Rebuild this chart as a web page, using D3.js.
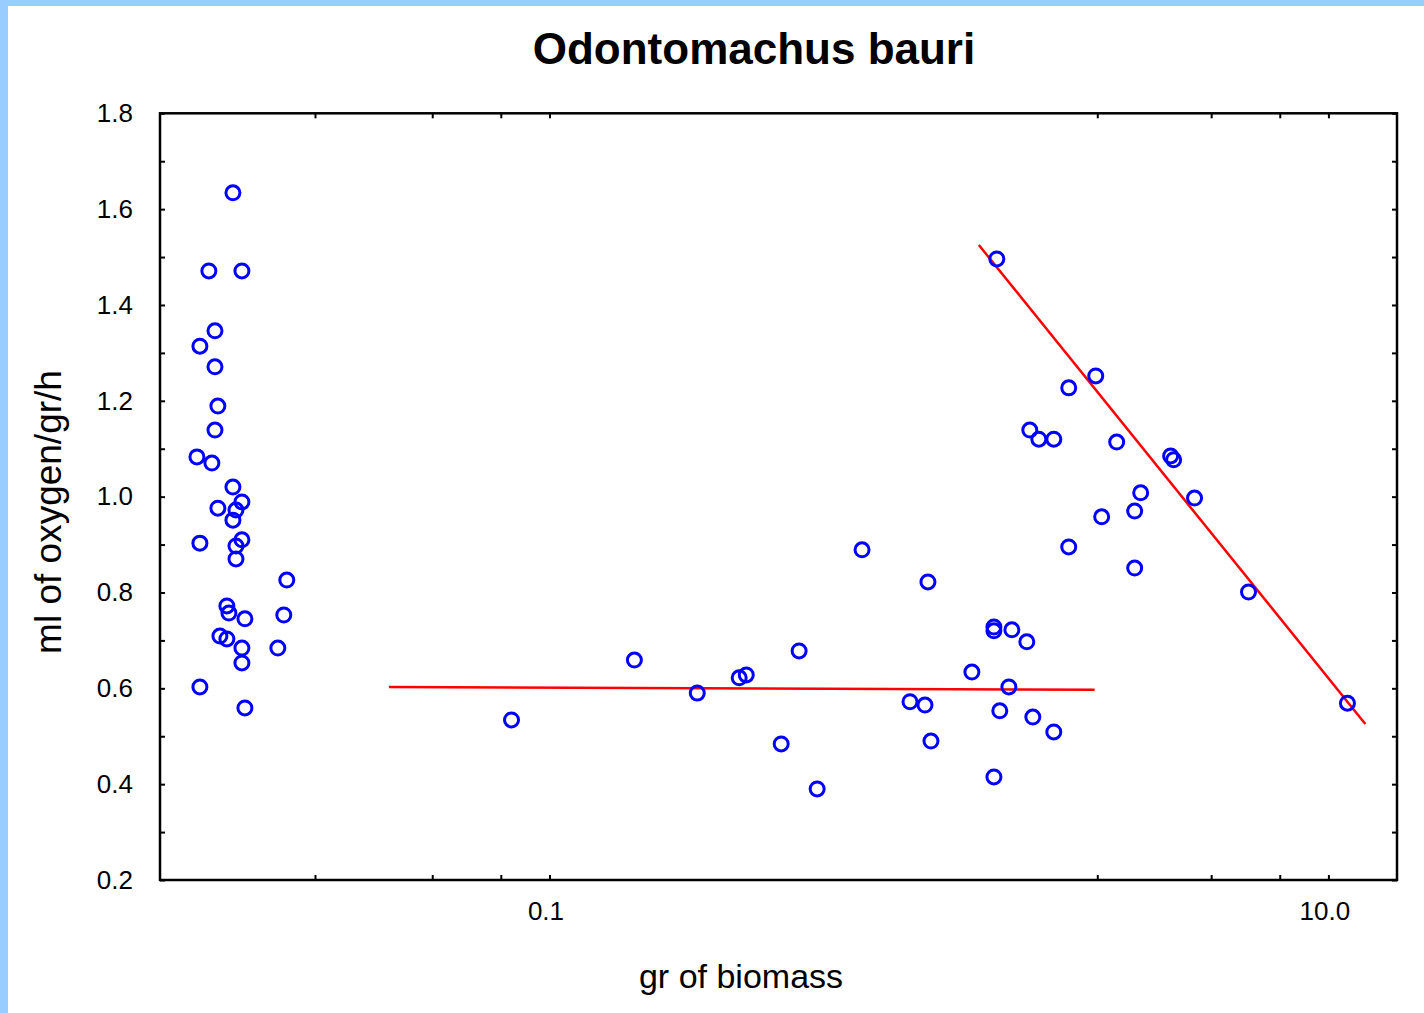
<!DOCTYPE html>
<html>
<head>
<meta charset="utf-8">
<script src="https://cdn.jsdelivr.net/npm/d3@7/dist/d3.min.js"></script>
<style>
  html, body { margin: 0; padding: 0; background: #fff; }
  svg { display: block; font-family: "Liberation Sans", Arial, sans-serif; }
</style>
</head>
<body>
<svg id="chart" width="1424" height="1013"></svg>
<script>
// values (x is biomass in gr, y is ml O2 / gr / h)
const smallAntsX = [0.01539, 0.01335, 0.01623, 0.01384, 0.01266, 0.01384, 0.01408, 0.01384, 0.01244, 0.01359,
  0.01539, 0.01623, 0.01408, 0.01567, 0.01539, 0.01266, 0.01623, 0.01567, 0.01567, 0.02116,
  0.01485, 0.01503, 0.01652, 0.02079, 0.01425, 0.01485, 0.01623, 0.02007, 0.01623, 0.01266, 0.01652];
const smallAntsY = [1.634, 1.471, 1.471, 1.346, 1.314, 1.271, 1.189, 1.139, 1.083, 1.070,
  1.020, 0.989, 0.976, 0.972, 0.951, 0.903, 0.910, 0.897, 0.870, 0.826,
  0.772, 0.757, 0.745, 0.753, 0.709, 0.703, 0.684, 0.684, 0.653, 0.603, 0.559];

const midX = [0.0799, 0.1652, 0.2396, 0.3070, 0.3201, 0.4375, 0.3935, 0.4867, 0.6347, 0.937,
  0.8427, 0.9207, 0.9539, 1.215, 1.384, 1.384, 1.539, 1.681, 1.512, 1.433, 1.742, 1.972, 1.384];
const midY = [0.534, 0.659, 0.590, 0.622, 0.628, 0.678, 0.484, 0.390, 0.889, 0.822,
  0.572, 0.565, 0.490, 0.634, 0.728, 0.720, 0.722, 0.697, 0.603, 0.553, 0.540, 0.509, 0.415];

const bigX = [1.408, 2.527, 2.154, 1.711, 1.805, 1.972, 2.860, 3.935, 4.005, 3.296,
  4.532, 3.181, 2.617, 2.154, 3.181, 6.235, 11.19];
const bigY = [1.496, 1.252, 1.227, 1.139, 1.120, 1.120, 1.114, 1.085, 1.077, 1.008,
  0.997, 0.970, 0.958, 0.895, 0.851, 0.801, 0.569];

// fitted lines: y = a + b * log10(x), drawn between xFrom and xTo
const fitA = [0.5983, 1.6283];
const fitB = [-0.0033, -1.0072];
const fitFrom = [0.0387, 1.266];
const fitTo = [2.51, 12.44];

const xTicks = [0.025, 0.05, 0.075, 0.1, 2.55, 5, 7.5, 10];
const xLabelValues = [0.1, 10];
const xLabelTexts = ["0.1", "10.0"];
const yTicks = [0.2, 0.3, 0.4, 0.5, 0.6, 0.7, 0.8, 0.9, 1.0, 1.1, 1.2, 1.3, 1.4, 1.5, 1.6, 1.7, 1.8];
const yLabelValues = [0.2, 0.4, 0.6, 0.8, 1.0, 1.2, 1.4, 1.6, 1.8];

document.addEventListener('DOMContentLoaded', () => {
    const svg = d3.select('#chart');

    // light blue frame at top and left
    svg.append('rect').attr('x', 0).attr('y', 0).attr('width', 1424).attr('height', 6).attr('fill', '#99ccff');
    svg.append('rect').attr('x', 0).attr('y', 0).attr('width', 8).attr('height', 1013).attr('fill', '#99ccff');

    const left = 160, right = 1397, top = 113.3, bottom = 880;

    const x = d3.scaleLog().domain([0.01, 15]).range([left, right]);
    const y = d3.scaleLinear().domain([0.2, 1.8]).range([bottom, top]);

    // minor / major ticks on all four sides, pointing inward
    const tickStyle = g => {
        g.select('.domain').remove();
        g.selectAll('.tick line').attr('stroke', '#000').attr('stroke-width', 2);
    };
    svg.append('g').attr('transform', `translate(0,${bottom})`)
        .call(d3.axisBottom(x).tickValues(xTicks).tickSize(-5).tickFormat(''))
        .call(tickStyle);
    svg.append('g').attr('transform', `translate(0,${top})`)
        .call(d3.axisTop(x).tickValues(xTicks).tickSize(-5).tickFormat(''))
        .call(tickStyle);
    svg.append('g').attr('transform', `translate(${left},0)`)
        .call(d3.axisLeft(y).tickValues(yTicks).tickSize(-5).tickFormat(''))
        .call(tickStyle);
    svg.append('g').attr('transform', `translate(${right},0)`)
        .call(d3.axisRight(y).tickValues(yTicks).tickSize(-5).tickFormat(''))
        .call(tickStyle);

    // labels
    const labelStyle = g => {
        g.select('.domain').remove();
        g.selectAll('.tick line').remove();
        g.selectAll('.tick text').attr('fill', '#000').attr('font-size', 26)
            .attr('font-family', '"Liberation Sans", Arial, sans-serif');
    };
    svg.append('g').attr('transform', `translate(0,${bottom})`)
        .call(d3.axisBottom(x).tickValues(xLabelValues).tickSize(0).tickPadding(22)
            .tickFormat((d, i) => xLabelTexts[i]))
        .call(labelStyle)
        .selectAll('.tick text').attr('dx', -4);
    svg.append('g').attr('transform', `translate(${left},0)`)
        .call(d3.axisLeft(y).tickValues(yLabelValues).tickSize(0).tickPadding(27)
            .tickFormat(d => d.toFixed(1)))
        .call(labelStyle);

    // frame
    svg.append('rect')
        .attr('x', left).attr('y', top)
        .attr('width', right - left).attr('height', bottom - top)
        .attr('fill', 'none').attr('stroke', '#000').attr('stroke-width', 2.5);

    // fitted lines
    const line = d3.line().x(d => x(d[0])).y(d => y(d[1]));
    fitA.forEach((a, i) => {
        const pts = [fitFrom[i], fitTo[i]].map(v => [v, a + fitB[i] * Math.log10(v)]);
        svg.append('path').attr('d', line(pts))
            .attr('fill', 'none').attr('stroke', '#ff0000').attr('stroke-width', 2.5);
    });

    // points
    const allX = smallAntsX.concat(midX, bigX);
    const allY = smallAntsY.concat(midY, bigY);
    svg.append('g').selectAll('circle')
        .data(allX.map((v, i) => [v, allY[i]]))
        .enter()
        .append('circle')
        .attr('cx', d => x(d[0]))
        .attr('cy', d => y(d[1]))
        .attr('r', 7)
        .attr('fill', 'none')
        .attr('stroke', '#0000ff')
        .attr('stroke-width', 3);

    // title and axis titles
    svg.append('text').attr('x', 754).attr('y', 64)
        .attr('text-anchor', 'middle').attr('font-size', 44).attr('font-weight', 'bold')
        .text('Odontomachus bauri');
    svg.append('text').attr('x', 741).attr('y', 988)
        .attr('text-anchor', 'middle').attr('font-size', 34)
        .text('gr of biomass');
    svg.append('text')
        .attr('transform', 'translate(61,512) rotate(-90)')
        .attr('text-anchor', 'middle').attr('font-size', 37)
        .text('ml of oxygen/gr/h');
});
</script>
</body>
</html>
